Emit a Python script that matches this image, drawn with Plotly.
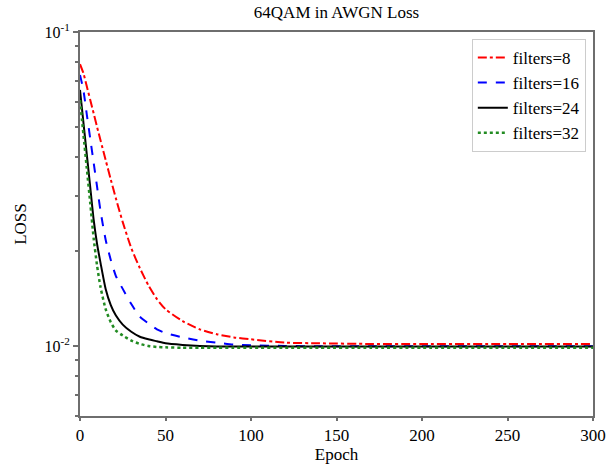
import plotly.graph_objects as go

epochs = [0, 2, 4, 6, 8, 10, 12, 15, 18, 21, 25, 30, 35, 40, 45, 50, 60, 70, 80, 90, 100, 120, 140, 170, 200, 250, 300]

loss_f8 = [0.079, 0.0739, 0.0670, 0.0607, 0.0550, 0.0498, 0.0452, 0.0391, 0.0339, 0.0295, 0.0248,
           0.0205, 0.0177, 0.0156, 0.0141, 0.0131, 0.0120, 0.0113, 0.0109, 0.01065, 0.0105,
           0.01025, 0.0102, 0.01015, 0.01015, 0.01015, 0.01015]
loss_f16 = [0.073, 0.0652, 0.0545, 0.0457, 0.0383, 0.0321, 0.0269, 0.0218, 0.0188, 0.0167, 0.0152,
            0.0136, 0.0124, 0.0118, 0.0113, 0.0110, 0.01065, 0.0104, 0.01025, 0.0101, 0.01005,
            0.0100, 0.00998, 0.00998, 0.00998, 0.00998, 0.00998]
loss_f24 = [0.0654, 0.0515, 0.0406, 0.0320, 0.0252, 0.0211, 0.0184, 0.0152, 0.0135, 0.0125, 0.0117,
            0.0111, 0.0107, 0.0105, 0.01035, 0.0102, 0.01008, 0.0100, 0.00996, 0.00996, 0.00996,
            0.00996, 0.00996, 0.00996, 0.00996, 0.00996, 0.00996]
loss_f32 = [0.0607, 0.0472, 0.0367, 0.0285, 0.0220, 0.0180, 0.0154, 0.0131, 0.0119, 0.0112, 0.0108,
            0.0104, 0.01015, 0.0100, 0.00993, 0.0099, 0.00987, 0.00987, 0.00987, 0.00987, 0.00987,
            0.00987, 0.00987, 0.00987, 0.00987, 0.00987, 0.00987]

series_names = ["filters=8", "filters=16", "filters=24", "filters=32"]
x_ticks = [0, 50, 100, 150, 200, 250, 300]
y_ticks = [0.01, 0.1]
y_tick_text = ["10<sup>-2</sup>", "10<sup>-1</sup>"]
y_minor = [0.006, 0.007, 0.008, 0.009, 0.02, 0.03, 0.04, 0.05, 0.06, 0.07, 0.08, 0.09]

styles = [
    dict(color="#ff0000", dash="dashdot", width=2),
    dict(color="#0000ff", dash="dash", width=2),
    dict(color="#000000", dash="solid", width=2),
    dict(color="#228b22", dash="dot", width=2.5),
]

FONT = "Liberation Serif, Times New Roman, serif"

fig = go.Figure()
for name, ys, st in zip(series_names, [loss_f8, loss_f16, loss_f24, loss_f32], styles):
    fig.add_trace(go.Scatter(x=epochs, y=ys, mode="lines", name=name,
                             line=dict(shape="spline", smoothing=0.6, **st)))

axis_common = dict(showline=True, linecolor="#6e6e6e", linewidth=2, mirror=True,
                   showgrid=False, zeroline=False, ticks="outside",
                   tickcolor="#6e6e6e", tickwidth=1.5, automargin=False)

fig.update_layout(
    width=616, height=464,
    margin=dict(l=80, r=23, t=32, b=48),
    paper_bgcolor="white", plot_bgcolor="white",
    font=dict(family=FONT, color="black"),
    title=dict(text="64QAM in AWGN Loss", x=0.5, xref="paper", xanchor="center",
               y=1 - 12 / 464, yref="container", yanchor="middle", automargin=False,
               font=dict(family=FONT, size=17, color="black")),
    xaxis=dict(range=[0, 300], tickvals=x_ticks, ticklen=3,
               tickfont=dict(family=FONT, size=17, color="black"),
               title=dict(text="Epoch", font=dict(family=FONT, size=17), standoff=5),
               **axis_common),
    yaxis=dict(type="log", range=[-2.223, -1], tickvals=y_ticks, ticktext=y_tick_text,
               ticklen=5,
               tickfont=dict(family=FONT, size=16, color="black"),
               minor=dict(tickmode="array", tickvals=y_minor, ticks="outside", ticklen=3,
                          tickcolor="#6e6e6e", tickwidth=1.5),
               title=dict(text="LOSS", font=dict(family=FONT, size=17), standoff=14),
               **axis_common),
    legend=dict(x=0.986, y=0.982, xanchor="right", yanchor="top",
                bgcolor="white", bordercolor="#cccccc", borderwidth=1,
                font=dict(family=FONT, size=17, color="black"),
                tracegroupgap=0, itemwidth=30),
    showlegend=True,
)

fig.write_html("out.html")
